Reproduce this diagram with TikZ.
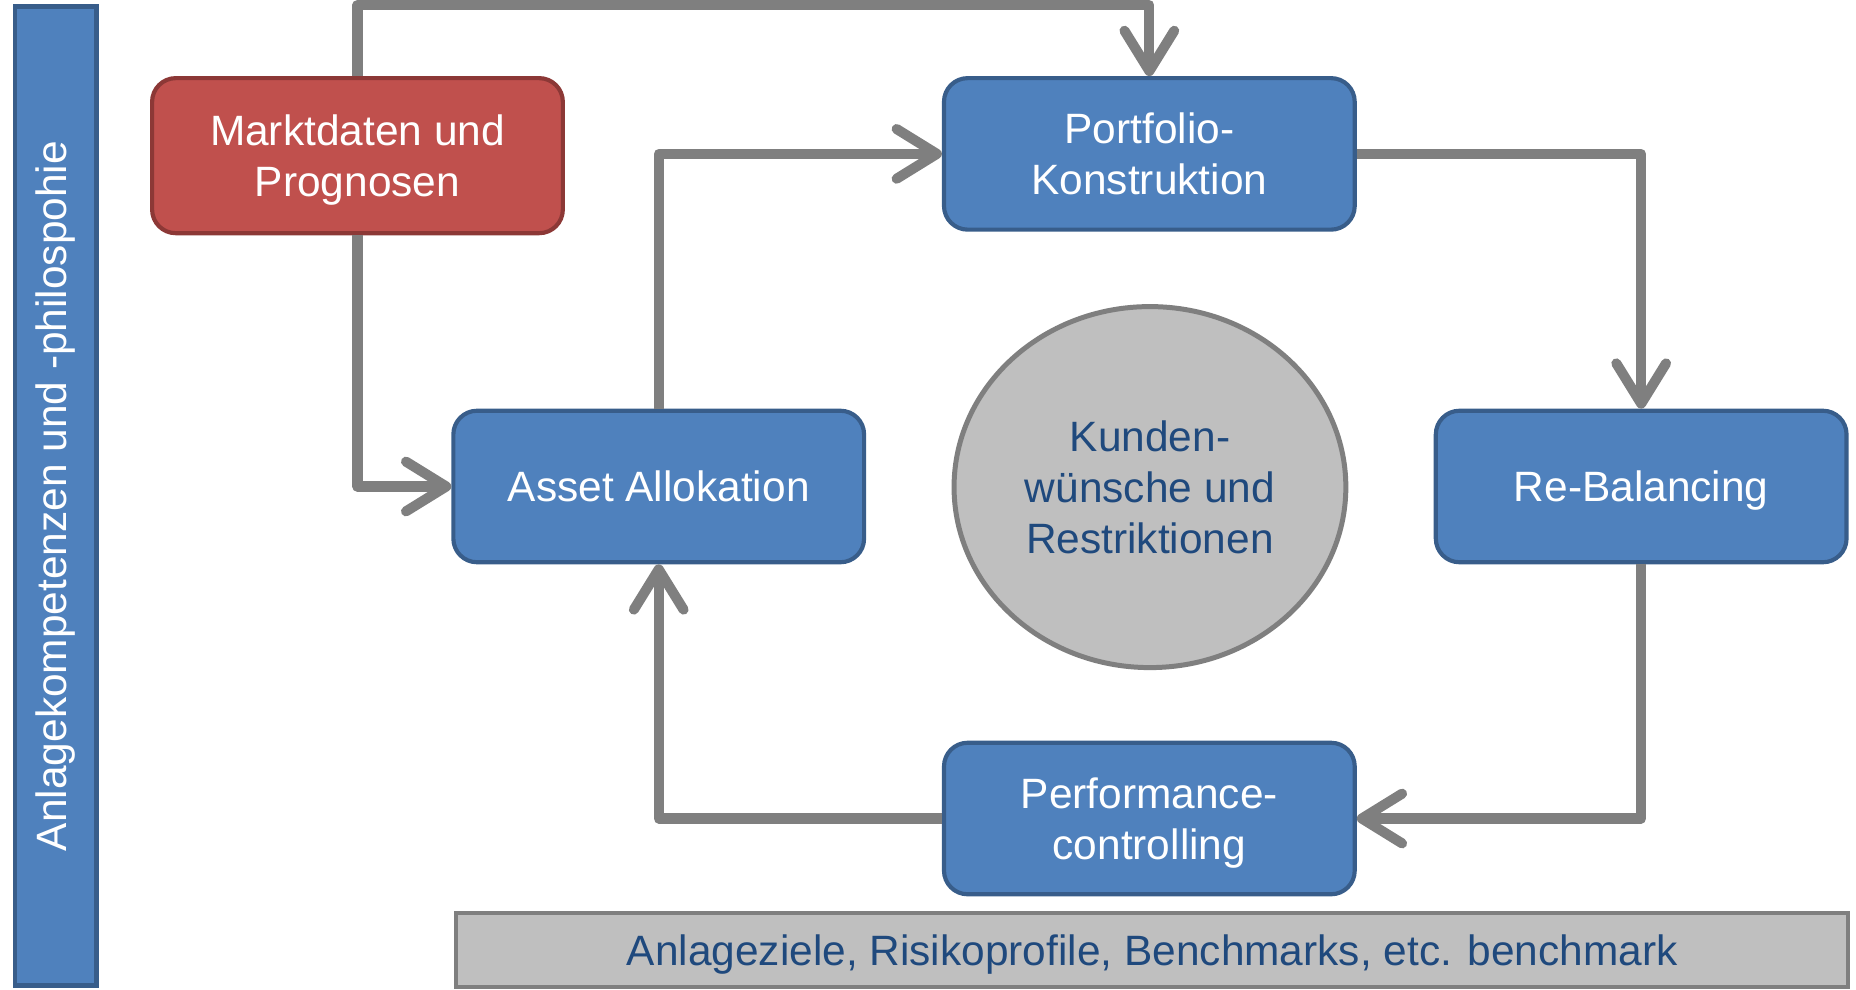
\documentclass[tikz,border=0pt]{standalone}
\usepackage{fontspec}
\setmainfont{Liberation Sans}
\usepackage{tikz}
\usetikzlibrary{shapes,arrows.meta,positioning}
\definecolor{boxblue}{HTML}{4F81BD}
\definecolor{boxblueline}{HTML}{385D8A}
\definecolor{boxred}{HTML}{C0504D}
\definecolor{boxredline}{HTML}{8C3836}
\definecolor{softgray}{HTML}{BFBFBF}
\definecolor{linegray}{HTML}{7F7F7F}
\definecolor{darktext}{HTML}{1F497D}

\begin{document}
\begin{tikzpicture}[
  font=\fontsize{10.2}{12.2}\selectfont,
  stage/.style={rectangle,rounded corners=0.2cm,draw=boxblueline,line width=1pt,fill=boxblue,text=white,align=center,text depth=0pt,minimum width=3.47cm,minimum height=1.28cm},
  flow/.style={draw=linegray,line width=0.085cm,line join=round,-{Straight Barb[length=0.34cm,width=0.42cm,round]}}
]
\useasboundingbox (0,0) rectangle (15.68,8.36);

% Side and bottom bars
\node[rectangle,draw=boxblueline,line width=1pt,fill=boxblue,text=white,rotate=90,minimum width=8.27cm,minimum height=0.69cm] (kompetenz) at (0.47,4.17) {Anlagekompetenzen und -philospohie};
\node[rectangle,draw=linegray,line width=1pt,fill=softgray,text=darktext,text depth=0pt,minimum width=11.76cm,minimum height=0.63cm] (ziele) at (9.735,0.335) {Anlageziele, Risikoprofile, Benchmarks, etc. benchmark};

% Process steps
\node[stage,fill=boxred,draw=boxredline,minimum height=1.31cm] (markt) at (3.02,7.045) {Marktdaten und\\Prognosen};
\node[stage] (portfolio) at (9.71,7.06) {Portfolio-\\Konstruktion};
\node[stage] (asset) at (5.565,4.25) {Asset Allokation};
\node[stage] (rebal) at (13.865,4.25) {Re-Balancing};
\node[stage] (perf) at (9.71,1.445) {Performance-\\controlling};

% Client wishes in the middle
\node[ellipse,draw=linegray,line width=1.2pt,fill=softgray,text=darktext,align=center,minimum width=3.31cm,minimum height=3.05cm,inner sep=0pt] (kunden) at (9.715,4.245) {Kunden-\\wünsche und\\Restriktionen};

% Arrows
\draw[flow] (markt.north) -- ++(0,0.6) -| (portfolio.north);
\draw[flow] (markt.south) |- (asset.west);
\draw[flow] (asset.north) |- (portfolio.west);
\draw[flow] (portfolio.east) -| (rebal.north);
\draw[flow] (rebal.south) |- (perf.east);
\draw[flow] (perf.west) -| (asset.south);

\end{tikzpicture}
\end{document}
